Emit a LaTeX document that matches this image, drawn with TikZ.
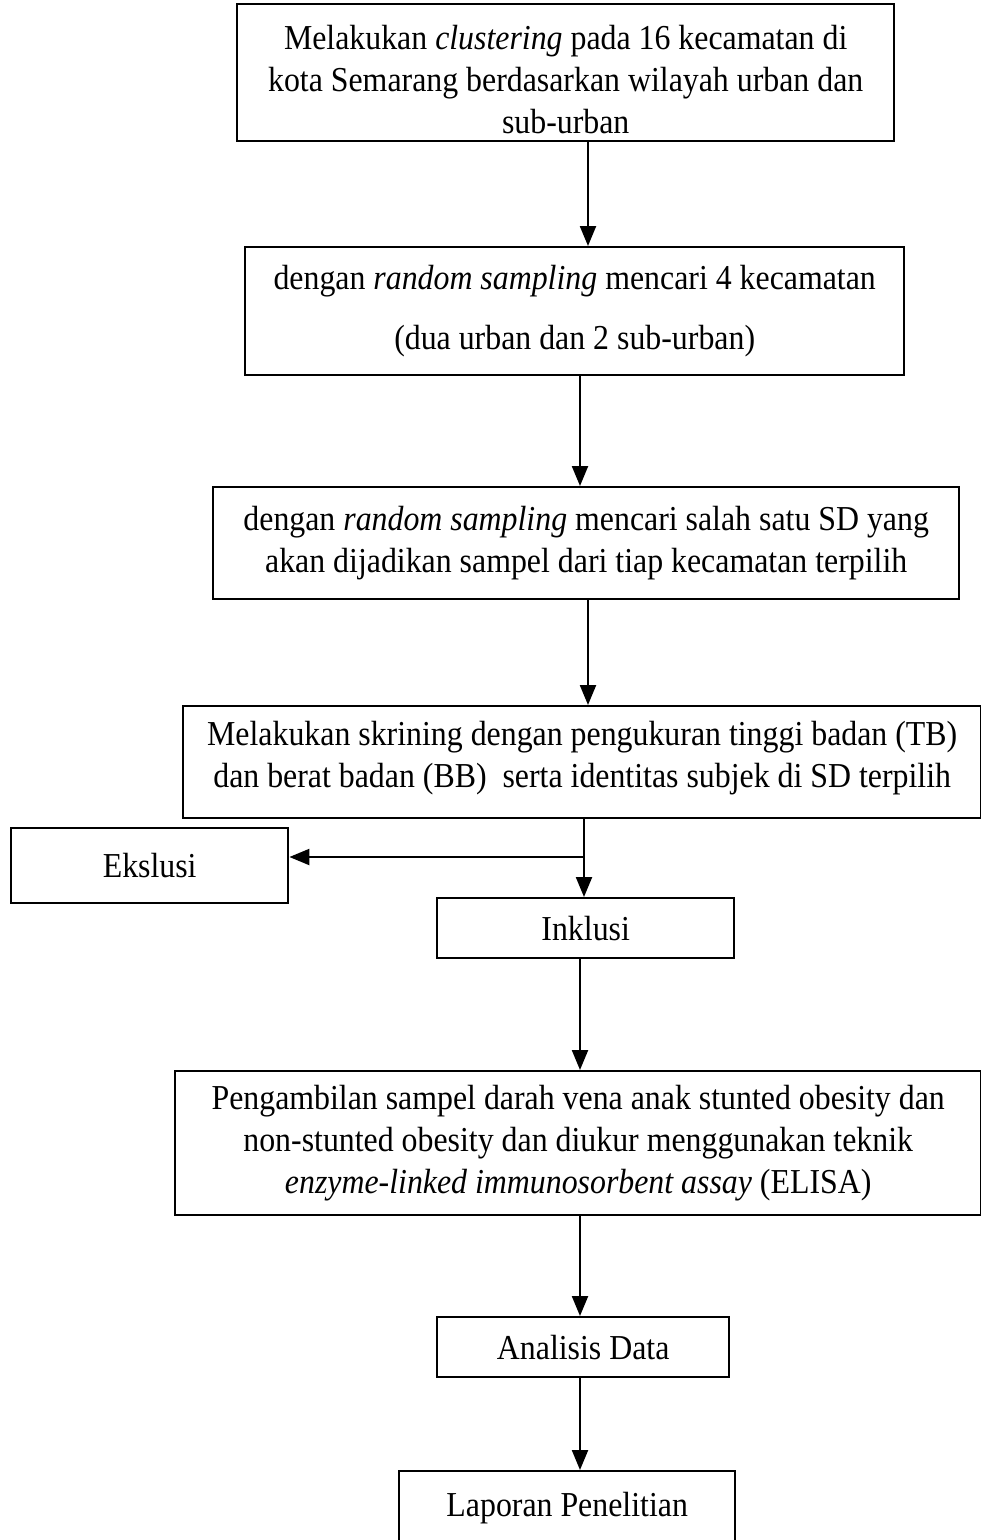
\documentclass[tikz,border=0pt]{standalone}
\usepackage{fontspec}
\setmainfont[FakeStretch=0.91]{Liberation Serif}
\usetikzlibrary{arrows.meta}
\begin{document}
\begin{tikzpicture}[x=1pt,y=-1pt,
  boxnode/.style={draw, line width=2.4pt, inner sep=0pt, align=center,
    font=\fontsize{35}{42}\selectfont, anchor=north west},
  flow/.style={line width=2.2pt, -{Triangle[length=20pt,width=16pt]}}]
\useasboundingbox (0,0) rectangle (981,1540);

\node[boxnode, minimum width=657, minimum height=137] (b1) at (236,3)
  {\\[-4pt]Melakukan \textit{clustering} pada 16 kecamatan di\\kota Semarang berdasarkan wilayah urban dan\\sub-urban};
\node[boxnode, minimum width=659, minimum height=128, font=\fontsize{35}{60}\selectfont] (b2) at (244,246)
  {dengan \textit{random sampling} mencari 4 kecamatan\\(dua urban dan 2 sub-urban)};
\node[boxnode, minimum width=746, minimum height=112] (b3) at (212,486)
  {dengan \textit{random sampling} mencari salah satu SD yang\\akan dijadikan sampel dari tiap kecamatan terpilih};
\node[boxnode, minimum width=798, minimum height=112] (b4) at (182,705)
  {Melakukan skrining dengan pengukuran tinggi badan (TB)\\dan berat badan (BB)~ serta identitas subjek di SD terpilih\\[-26pt]};
\node[boxnode, minimum width=277, minimum height=75] (ex) at (10,827)
  {Ekslusi};
\node[boxnode, minimum width=297, minimum height=60] (inc) at (436,897)
  {Inklusi};
\node[boxnode, minimum width=806, minimum height=144] (b5) at (174,1070)
  {Pengambilan sampel darah vena anak stunted obesity dan\\non-stunted obesity dan diukur menggunakan teknik\\\textit{enzyme-linked immunosorbent assay} (ELISA)};
\node[boxnode, minimum width=292, minimum height=60] (an) at (436,1316)
  {Analisis Data};
\node[boxnode, minimum width=336, minimum height=100] (lap) at (398,1470)
  {Laporan Penelitian\\[-8pt]};

\draw[flow] (b1.south -| 588,0) -- (b2.north -| 588,0);
\draw[flow] (b2.south -| 580,0) -- (b3.north -| 580,0);
\draw[flow] (b3.south -| 588,0) -- (b4.north -| 588,0);
\coordinate (br) at (584,857);
\draw[flow] (b4.south -| br) -- (inc.north -| br);
\draw[flow] (br) -- (ex.east |- br);
\draw[flow] (inc.south -| 580,0) -- (b5.north -| 580,0);
\draw[flow] (b5.south -| 580,0) -- (an.north -| 580,0);
\draw[flow] (an.south -| 580,0) -- (lap.north -| 580,0);
\end{tikzpicture}
\end{document}
